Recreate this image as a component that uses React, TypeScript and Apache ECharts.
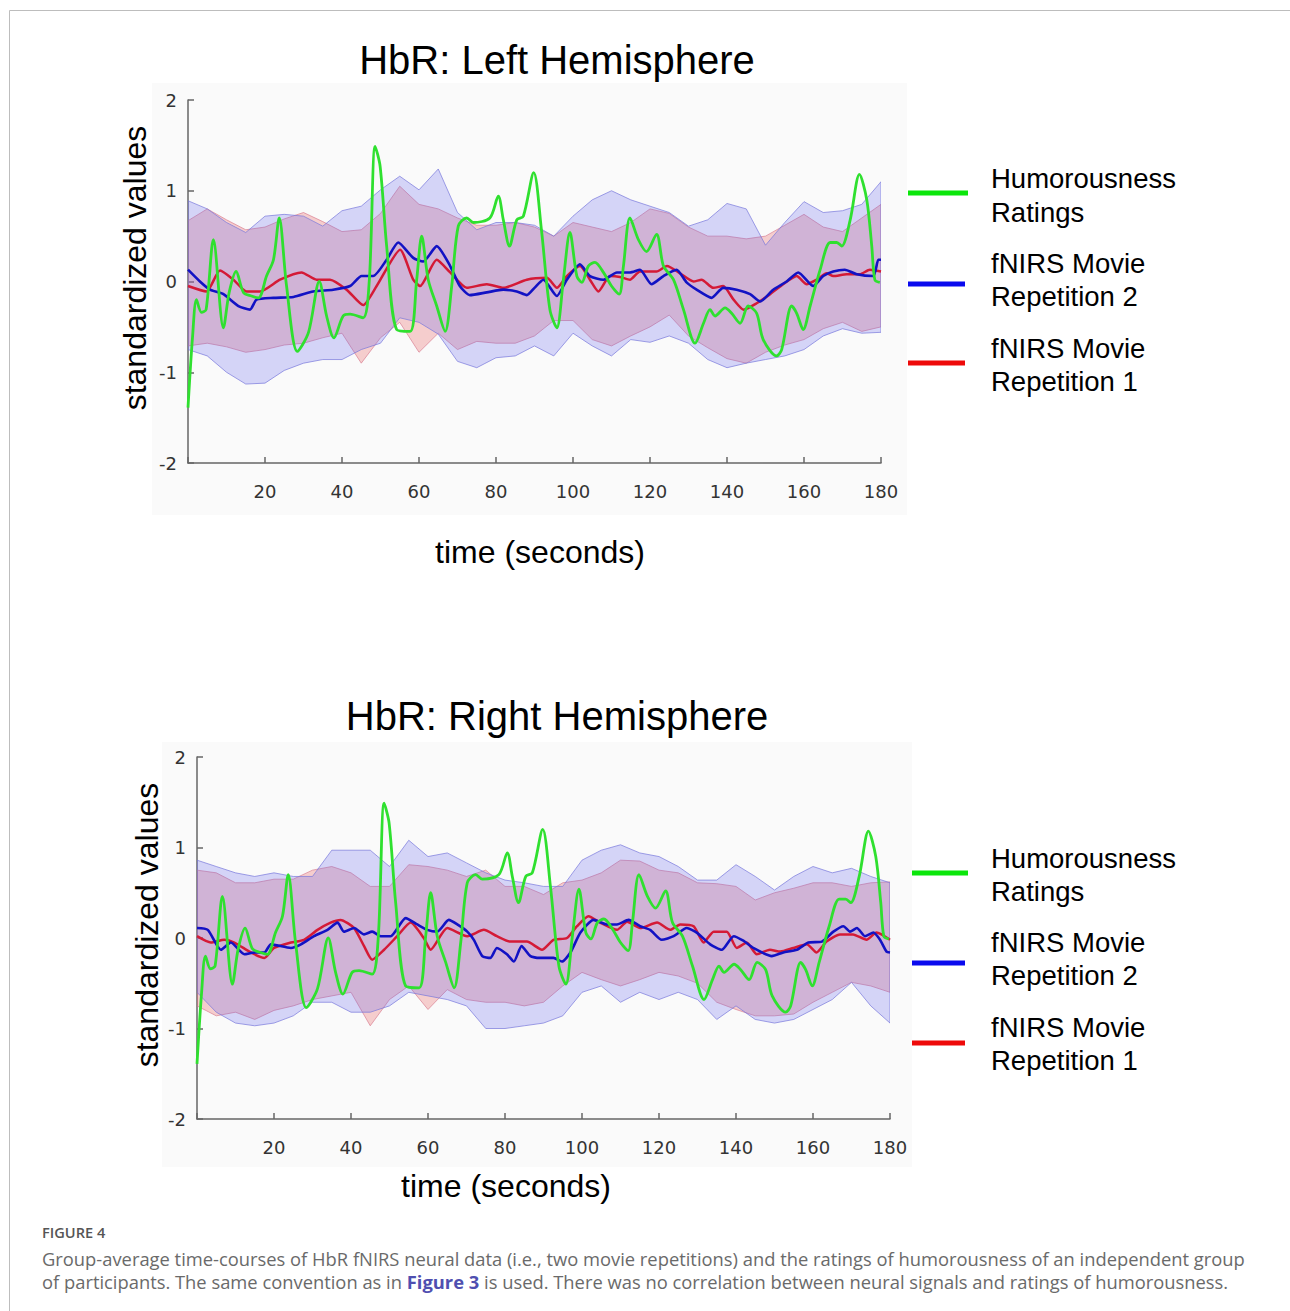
import React, { useEffect, useRef } from "react";
import * as echarts from "echarts";

// ---------- shared ----------
const bandT = [0, 5, 10, 15, 20, 25, 30, 35, 40, 45, 50, 55, 60, 65, 70, 75, 80, 85, 90, 95, 100, 105, 110, 115, 120, 125, 130, 135, 140, 145, 150, 155, 160, 165, 170, 175, 180];

// Humorousness ratings (same in both panels)
const greenT = [0, 1.2, 2.2, 3.5, 4.7, 6.6, 9.2, 10.7, 12.5, 14.4, 16.5, 18.3, 20.4, 22.2, 23.7, 25.6, 28.4, 31.3, 34.1, 36.0, 37.9, 40.3, 42.1, 45.5, 47.1, 48.6, 49.9, 51.6, 54.2, 57.7, 59.4, 60.7, 62.4, 64.6, 66.8, 68.5, 70.2, 72.4, 74.1, 78.4, 80.6, 81.9, 83.5, 85.4, 87.1, 89.8, 91.8, 94.0, 95.8, 97.5, 99.2, 101.0, 102.3, 104.0, 105.7, 107.9, 110.0, 112.0, 113.1, 114.8, 117.0, 119.1, 121.7, 123.5, 126.1, 128.7, 131.7, 133.9, 135.6, 136.9, 139.5, 141.2, 143.4, 145.5, 147.7, 149.4, 152.9, 154.2, 156.8, 158.1, 159.8, 161.6, 164.2, 166.8, 168.5, 169.8, 172.0, 174.4, 176.3, 177.6, 178.4, 179.7];
const greenV = [-1.39, -0.6, -0.2, -0.34, -0.31, 0.46, -0.51, -0.12, 0.11, -0.12, -0.16, -0.18, 0.06, 0.24, 0.7, -0.05, -0.77, -0.56, 0.0, -0.38, -0.62, -0.38, -0.36, -0.4, 0.02, 1.49, 1.27, 0.39, -0.53, -0.55, 0.02, 0.5, 0.02, -0.27, -0.55, -0.05, 0.61, 0.7, 0.65, 0.7, 0.94, 0.68, 0.39, 0.68, 0.72, 1.2, 0.57, -0.31, -0.51, 0.02, 0.54, 0.06, -0.01, 0.17, 0.21, 0.1, -0.05, -0.14, 0.17, 0.7, 0.46, 0.33, 0.52, 0.17, 0.02, -0.31, -0.68, -0.46, -0.31, -0.38, -0.29, -0.35, -0.46, -0.27, -0.35, -0.64, -0.82, -0.75, -0.27, -0.35, -0.53, -0.27, 0.13, 0.43, 0.43, 0.39, 0.68, 1.18, 0.9, 0.39, 0.02, -0.01];

// ---------- Left hemisphere ----------
const leftBlueT = [0, 3.1, 5.7, 9.2, 13.1, 16.1, 17.8, 22.2, 27.4, 32.5, 37.7, 42.1, 45.1, 48.1, 51.6, 54.6, 58.5, 61.1, 64.6, 68.1, 70.6, 73.2, 77.6, 81.9, 85.4, 88.0, 90.0, 92.3, 95.8, 98.4, 101.8, 104.4, 107.9, 111.4, 114.8, 117.4, 120.4, 123.5, 126.9, 129.5, 132.1, 136.0, 139.0, 142.5, 146.0, 148.6, 152.0, 155.5, 158.5, 162.4, 165.0, 167.6, 170.6, 173.7, 178.0, 179.3, 180];
const leftBlueV = [0.13, 0.0, -0.09, -0.14, -0.27, -0.31, -0.2, -0.18, -0.17, -0.11, -0.09, -0.05, 0.06, 0.06, 0.24, 0.43, 0.26, 0.22, 0.39, 0.17, -0.05, -0.15, -0.12, -0.09, -0.11, -0.15, -0.07, 0.02, -0.16, 0.02, 0.19, 0.06, 0.02, 0.1, 0.1, 0.13, -0.03, 0.06, 0.13, -0.01, -0.09, -0.18, -0.07, -0.09, -0.14, -0.22, -0.09, 0.0, 0.1, -0.05, 0.06, 0.11, 0.13, 0.08, 0.06, 0.24, 0.24];
const leftRedT = [0, 4.8, 8.3, 11.8, 15.2, 18.7, 23.9, 29.5, 33.4, 36.9, 41.2, 45.5, 49.0, 55.1, 58.5, 60.3, 64.6, 68.1, 72.4, 77.6, 81.9, 88.0, 93.2, 95.8, 98.4, 101.8, 104.4, 106.6, 109.6, 112.2, 114.8, 117.4, 121.7, 124.4, 127.8, 131.3, 133.4, 136.4, 139.0, 141.7, 144.3, 147.7, 151.2, 154.6, 158.1, 160.7, 163.3, 165.9, 167.6, 171.1, 174.5, 177.1, 180];
const leftRedV = [-0.05, -0.11, 0.12, 0.02, -0.11, -0.11, 0.02, 0.1, 0.02, 0.02, -0.09, -0.26, -0.05, 0.35, 0.02, -0.05, 0.24, 0.1, -0.07, -0.03, -0.07, 0.02, 0.04, -0.07, 0.06, 0.17, 0.02, -0.11, 0.06, 0.05, 0.02, 0.11, 0.11, 0.17, 0.09, 0.0, 0.02, -0.07, -0.05, -0.2, -0.31, -0.24, -0.14, -0.03, 0.06, -0.03, 0.02, 0.09, 0.06, 0.08, 0.08, 0.13, 0.11];
const leftBlueUpper = [0.89, 0.8, 0.65, 0.54, 0.72, 0.74, 0.72, 0.61, 0.78, 0.83, 1.01, 1.16, 1.01, 1.24, 0.76, 0.57, 0.65, 0.65, 0.62, 0.5, 0.72, 0.9, 1.0, 0.9, 0.83, 0.76, 0.61, 0.68, 0.86, 0.8, 0.4, 0.65, 0.88, 0.76, 0.78, 0.85, 1.1];
const leftBlueLower = [-0.75, -0.82, -1.0, -1.13, -1.12, -0.98, -0.9, -0.86, -0.86, -0.75, -0.68, -0.4, -0.45, -0.58, -0.88, -0.95, -0.84, -0.82, -0.71, -0.82, -0.57, -0.71, -0.82, -0.64, -0.67, -0.6, -0.68, -0.86, -0.95, -0.9, -0.86, -0.82, -0.75, -0.6, -0.52, -0.57, -0.56];
const leftRedUpper = [0.67, 0.8, 0.68, 0.57, 0.6, 0.69, 0.76, 0.66, 0.55, 0.57, 0.75, 1.05, 0.85, 0.8, 0.7, 0.62, 0.62, 0.65, 0.6, 0.5, 0.65, 0.6, 0.55, 0.65, 0.8, 0.75, 0.6, 0.5, 0.5, 0.47, 0.5, 0.62, 0.74, 0.6, 0.55, 0.7, 0.85];
const leftRedLower = [-0.71, -0.68, -0.72, -0.78, -0.75, -0.7, -0.68, -0.62, -0.57, -0.9, -0.62, -0.45, -0.78, -0.57, -0.75, -0.66, -0.68, -0.68, -0.6, -0.43, -0.43, -0.64, -0.71, -0.6, -0.5, -0.37, -0.6, -0.73, -0.85, -0.9, -0.78, -0.7, -0.64, -0.52, -0.45, -0.55, -0.5];

// ---------- Right hemisphere ----------
const rightBlueT = [0, 2.8, 6.2, 8.8, 12.3, 14.9, 17.5, 19.2, 24.4, 27.0, 30.4, 33.9, 36.5, 38.2, 40.8, 43.4, 45.5, 47.7, 50.3, 54.2, 57.2, 59.8, 62.4, 65.4, 67.6, 70.2, 71.9, 74.1, 76.2, 77.9, 80.5, 82.3, 84.3, 86.6, 88.8, 92.6, 94.8, 97.0, 99.6, 103.0, 106.5, 109.1, 112.1, 115.1, 117.7, 120.7, 123.8, 127.2, 129.8, 133.3, 136.3, 139.4, 141.9, 144.5, 149.3, 152.3, 155.8, 158.8, 162.3, 165.3, 167.9, 169.6, 171.4, 173.5, 175.7, 177.4, 179.1, 180];
const rightBlueV = [0.11, 0.09, -0.13, -0.05, -0.18, -0.16, -0.16, -0.07, -0.11, -0.07, 0.02, 0.09, 0.17, 0.07, 0.11, 0.04, 0.07, 0.02, 0.02, 0.22, 0.15, 0.09, 0.07, 0.2, 0.15, 0.07, -0.02, -0.2, -0.22, -0.11, -0.18, -0.26, -0.09, -0.2, -0.22, -0.22, -0.26, -0.16, 0.06, 0.2, 0.15, 0.15, 0.2, 0.13, 0.09, -0.02, 0.02, 0.11, 0.06, -0.07, -0.13, 0.02, -0.03, -0.11, -0.2, -0.16, -0.13, -0.05, -0.04, 0.07, 0.13, 0.07, 0.11, 0.02, 0.06, -0.02, -0.15, -0.16];
const rightRedT = [0, 3.6, 7.1, 9.7, 14.0, 17.5, 20.0, 24.4, 27.8, 31.3, 34.7, 37.3, 40.8, 43.4, 45.5, 48.6, 52.0, 55.5, 58.9, 60.7, 65.0, 70.2, 74.5, 77.9, 81.4, 85.7, 89.6, 92.6, 96.1, 98.7, 101.7, 104.7, 109.1, 111.7, 115.1, 119.5, 122.9, 125.5, 129.0, 131.6, 134.2, 137.6, 140.2, 142.8, 145.4, 148.8, 151.5, 154.9, 158.4, 160.9, 163.5, 167.0, 170.4, 173.9, 176.5, 180];
const rightRedV = [0.02, -0.05, -0.02, -0.05, -0.16, -0.22, -0.11, -0.05, -0.02, 0.09, 0.17, 0.2, 0.11, -0.09, -0.24, -0.13, 0.02, 0.17, 0.0, -0.13, 0.11, 0.02, 0.09, 0.02, -0.04, -0.04, -0.13, -0.02, 0.0, 0.13, 0.24, 0.17, 0.09, 0.18, 0.11, 0.17, 0.09, 0.15, 0.13, -0.05, 0.07, 0.07, -0.11, -0.05, -0.18, -0.13, -0.15, -0.11, -0.07, -0.16, -0.04, 0.04, 0.04, -0.02, 0.06, -0.02];
const rightBlueUpper = [0.86, 0.79, 0.72, 0.68, 0.72, 0.68, 0.68, 0.97, 0.97, 0.97, 0.79, 1.08, 0.9, 0.94, 0.83, 0.72, 0.64, 0.61, 0.57, 0.57, 0.86, 0.97, 1.03, 0.94, 0.9, 0.79, 0.64, 0.64, 0.81, 0.68, 0.53, 0.68, 0.79, 0.72, 0.77, 0.68, 0.61];
const rightBlueLower = [-0.6, -0.82, -0.94, -0.97, -0.94, -0.86, -0.71, -0.71, -0.82, -0.82, -0.75, -0.6, -0.64, -0.68, -0.75, -1.0, -1.0, -0.97, -0.94, -0.86, -0.6, -0.53, -0.71, -0.6, -0.68, -0.6, -0.68, -0.9, -0.75, -0.9, -0.94, -0.9, -0.79, -0.68, -0.49, -0.75, -0.94];
const rightRedUpper = [0.75, 0.72, 0.61, 0.61, 0.65, 0.65, 0.75, 0.79, 0.72, 0.57, 0.57, 0.81, 0.79, 0.75, 0.68, 0.75, 0.57, 0.57, 0.48, 0.61, 0.64, 0.72, 0.86, 0.85, 0.75, 0.72, 0.61, 0.6, 0.57, 0.42, 0.5, 0.55, 0.61, 0.61, 0.57, 0.61, 0.62];
const rightRedLower = [-0.75, -0.86, -0.82, -0.9, -0.8, -0.75, -0.68, -0.64, -0.6, -0.97, -0.68, -0.53, -0.79, -0.57, -0.68, -0.71, -0.71, -0.75, -0.71, -0.53, -0.38, -0.46, -0.53, -0.46, -0.38, -0.42, -0.5, -0.71, -0.79, -0.86, -0.86, -0.84, -0.71, -0.6, -0.49, -0.53, -0.6];

const xTicks = [20, 40, 60, 80, 100, 120, 140, 160, 180];
const yTicks = [-2, -1, 0, 1, 2];
const legendNames = [["Humorousness", "Ratings"], ["fNIRS Movie", "Repetition 2"], ["fNIRS Movie", "Repetition 1"]];

const zip = (t: number[], v: number[]) => t.map((x, i) => [x, v[i]]);

const BLUE_FILL = "rgba(105,105,240,0.26)";
const BLUE_EDGE = "rgba(120,120,220,0.7)";
const RED_FILL = "rgba(232,85,85,0.27)";
const RED_EDGE = "rgba(215,120,140,0.65)";
const GREEN = "#2fe02f";
const BLUE = "#1212c4";
const RED = "#d41a36";
const LABEL_FONT = "DejaVu Sans";
const SANS = "Liberation Sans, Arial, sans-serif";

// band drawn as one polygon through the axis scales (api.coord)
function band(gi: number, lo: number[], hi: number[], fill: string, edge: string) {
  return {
    type: "custom",
    xAxisIndex: gi,
    yAxisIndex: gi,
    silent: true,
    clip: true,
    data: bandT.map((t, i) => [t, lo[i], hi[i]]),
    encode: { x: 0, y: [1, 2] },
    renderItem: (params: any, api: any) => {
      if (params.dataIndex !== 0) return null;
      const top = bandT.map((t, i) => api.coord([t, hi[i]]));
      const bot = bandT.map((t, i) => api.coord([t, lo[i]])).reverse();
      return {
        type: "polygon",
        shape: { points: top.concat(bot) },
        style: { fill, stroke: edge, lineWidth: 1 },
      };
    },
  };
}

function line(gi: number, t: number[], v: number[], color: string, width: number, smooth: number) {
  return {
    type: "line",
    xAxisIndex: gi,
    yAxisIndex: gi,
    data: zip(t, v),
    symbol: "none",
    silent: true,
    smooth,
    lineStyle: { color, width },
  };
}

function axes(gi: number) {
  const axisLine = { onZero: false, lineStyle: { color: "#666", width: 1.5 } };
  return {
    x: {
      type: "value",
      gridIndex: gi,
      min: 0,
      max: 180,
      interval: 20,
      axisLine,
      axisTick: { inside: true, length: 6, lineStyle: { color: "#666", width: 1.5 } },
      splitLine: { show: false },
      axisLabel: {
        margin: 19,
        color: "#333",
        fontSize: 18,
        fontFamily: LABEL_FONT,
        formatter: (v: number) => (xTicks.includes(v) ? String(v) : ""),
      },
    },
    y: {
      type: "value",
      gridIndex: gi,
      min: -2,
      max: 2,
      interval: 1,
      axisLine: { show: true, ...axisLine },
      axisTick: { show: true, inside: true, length: 6, lineStyle: { color: "#666", width: 1.5 } },
      splitLine: { show: false },
      axisLabel: {
        margin: 11,
        color: "#333",
        fontSize: 18,
        fontFamily: LABEL_FONT,
        formatter: (v: number) => (yTicks.includes(v) ? String(v) : ""),
      },
    },
  };
}

function txt(x: number, y: number, text: string, size: number, opts: any = {}) {
  return {
    type: "text",
    x,
    y,
    rotation: opts.rotation || 0,
    z: 10,
    silent: true,
    style: {
      text,
      fontSize: size,
      fontFamily: opts.family || SANS,
      fontWeight: opts.weight || "normal",
      fill: opts.color || "#000",
      textAlign: opts.align || "center",
      textVerticalAlign: "middle",
      align: opts.align || "center",
      verticalAlign: "middle",
      rich: opts.rich,
    },
  };
}

function legend(x0: number, lineYs: number[], textYs: number[][], lens: number[]) {
  const colors = ["#0be60b", "#0a0aee", "#ee0a0a"];
  const out: any[] = [];
  colors.forEach((c, i) => {
    out.push({
      type: "line",
      z: 10,
      silent: true,
      shape: { x1: x0, y1: lineYs[i], x2: x0 + lens[i], y2: lineYs[i] },
      style: { stroke: c, lineWidth: 5 },
    });
    out.push(txt(991, textYs[i][0], legendNames[i][0], 27.5, { align: "left" }));
    out.push(txt(991, textYs[i][1], legendNames[i][1], 27.5, { align: "left" }));
  });
  return out;
}

function buildOption() {
  const a0 = axes(0);
  const a1 = axes(1);
  const series: any[] = [
    band(0, leftRedLower, leftRedUpper, RED_FILL, RED_EDGE),
    band(0, leftBlueLower, leftBlueUpper, BLUE_FILL, BLUE_EDGE),
    line(0, leftRedT, leftRedV, RED, 2.5, 0.2),
    line(0, leftBlueT, leftBlueV, BLUE, 2.6, 0.2),
    line(0, greenT, greenV, GREEN, 2.8, 0.3),
    band(1, rightRedLower, rightRedUpper, RED_FILL, RED_EDGE),
    band(1, rightBlueLower, rightBlueUpper, BLUE_FILL, BLUE_EDGE),
    line(1, rightRedT, rightRedV, RED, 2.5, 0.2),
    line(1, rightBlueT, rightBlueV, BLUE, 2.6, 0.2),
    line(1, greenT, greenV, GREEN, 2.8, 0.3),
  ];

  const capFont = "Open Sans";
  const graphic: any[] = [
    // page frame
    { type: "line", silent: true, shape: { x1: 9.5, y1: 10.5, x2: 1290, y2: 10.5 }, style: { stroke: "#bdbdbd", lineWidth: 1 } },
    { type: "line", silent: true, shape: { x1: 9.5, y1: 10.5, x2: 9.5, y2: 1311 }, style: { stroke: "#bdbdbd", lineWidth: 1 } },
    // faint panel backgrounds
    { type: "rect", z: -10, silent: true, shape: { x: 152, y: 83, width: 755, height: 432 }, style: { fill: "#fafafa" } },
    { type: "rect", z: -10, silent: true, shape: { x: 162, y: 742, width: 750, height: 425 }, style: { fill: "#fafafa" } },
    // titles
    txt(557, 60, "HbR: Left Hemisphere", 40),
    txt(557, 716, "HbR: Right Hemisphere", 40),
    // axis names
    txt(135, 268, "standardized values", 32, { rotation: Math.PI / 2 }),
    txt(147, 925, "standardized values", 32, { rotation: Math.PI / 2 }),
    txt(540, 552, "time (seconds)", 32),
    txt(506, 1186, "time (seconds)", 32),
    // legends
    ...legend(908, [193, 284, 363], [[178, 212], [263, 296], [348, 381]], [60, 57, 57]),
    ...legend(912, [873, 963, 1043], [[858, 891], [942, 975], [1027, 1060]], [56, 53, 53]),
    // caption
    txt(42, 1232, "FIGURE 4", 14.6, { align: "left", family: capFont, weight: 600, color: "#555" }),
    txt(42, 1258, "Group-average time-courses of HbR fNIRS neural data (i.e., two movie repetitions) and the ratings of humorousness of an independent group", 18.35, { align: "left", family: capFont, color: "#6a6a6a" }),
    txt(42, 1281, "of participants. The same convention as in {b|Figure 3} is used. There was no correlation between neural signals and ratings of humorousness.", 18.35, {
      align: "left",
      family: capFont,
      color: "#6a6a6a",
      rich: { b: { fontWeight: "bold", fill: "#4f4fb0", fontSize: 18.35, fontFamily: capFont } },
    }),
  ];

  return {
    animation: false,
    backgroundColor: "#ffffff",
    grid: [
      { left: 188, top: 100, width: 693, height: 363 },
      { left: 197, top: 757, width: 693, height: 362 },
    ],
    xAxis: [a0.x, a1.x],
    yAxis: [a0.y, a1.y],
    series,
    graphic,
  };
}

export default function App() {
  const ref = useRef<HTMLDivElement>(null);
  useEffect(() => {
    document.body.style.margin = "0";
    document.body.style.overflow = "hidden";
    const chart = echarts.init(ref.current!, null, { renderer: "svg" });
    chart.setOption(buildOption() as any);
    return () => chart.dispose();
  }, []);
  return <div ref={ref} style={{ width: 1290, height: 1311 }} />;
}
